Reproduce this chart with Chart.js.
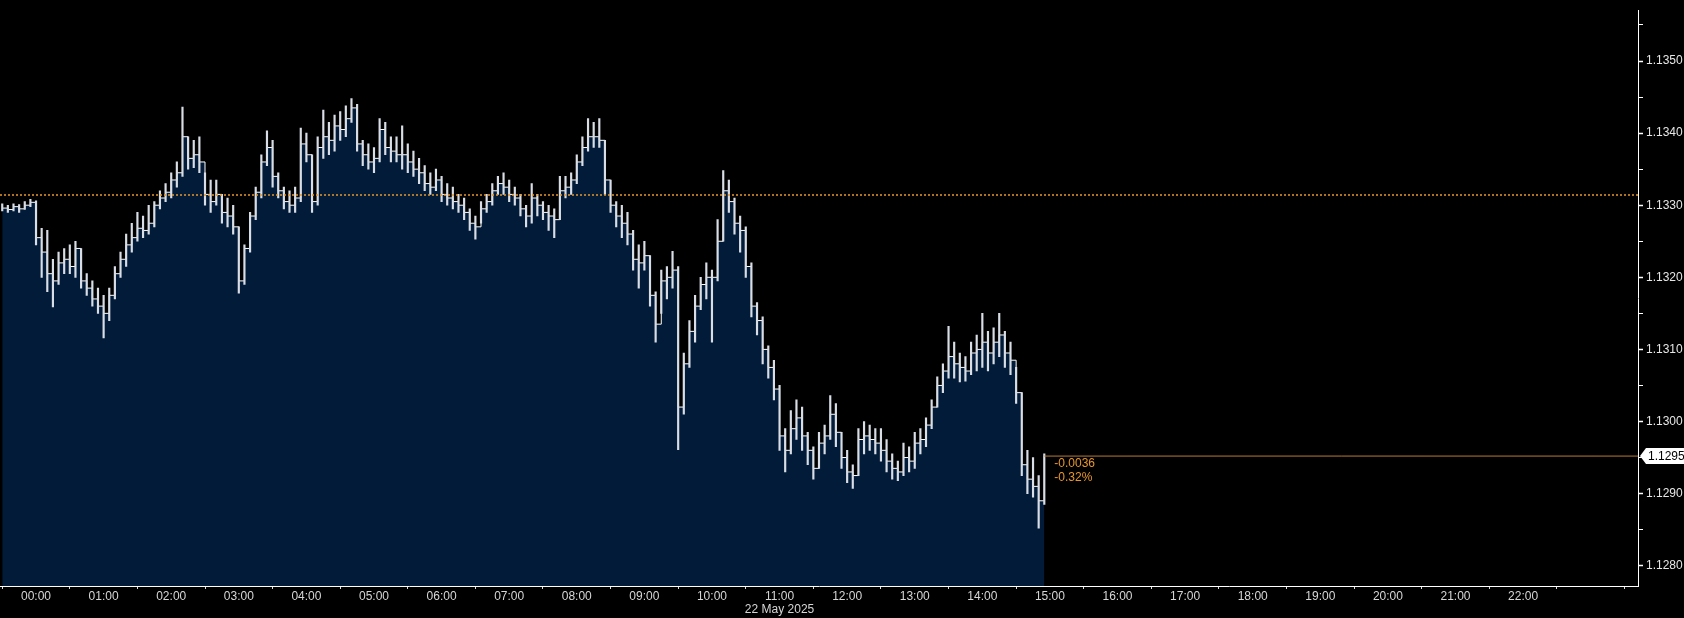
<!DOCTYPE html>
<html>
<head>
<meta charset="utf-8">
<script src="https://cdn.jsdelivr.net/npm/chart.js@4/dist/chart.umd.min.js"></script>
<style>
  html, body { margin: 0; padding: 0; background: #000; }
  #wrap { width: 1684px; height: 618px; position: relative; }
</style>
</head>
<body>
<div id="wrap"><canvas id="grafico"></canvas></div>
<script>
// 5 minute bars, first bar at 23:30 of the previous day (hours relative to 22 May 00:00)
const startHour = -0.5;
const stepHour = 5 / 60;

const lows = [
  1.13292,1.13290,1.13292,1.13290,1.13294,1.13298,
  1.13245,1.13200,1.13180,1.13159,1.13190,1.13205,
  1.13205,1.13200,1.13185,1.13175,1.13160,1.13150,
  1.13116,1.13140,1.13170,1.13200,1.13215,1.13235,
  1.13250,1.13255,1.13260,1.13270,1.13295,1.13305,
  1.13310,1.13325,1.13340,1.13350,1.13352,1.13345,
  1.13300,1.13290,1.13300,1.13275,1.13270,1.13260,
  1.13178,1.13190,1.13235,1.13280,1.13310,1.13355,
  1.13325,1.13310,1.13295,1.13290,1.13290,1.13305,
  1.13360,1.13290,1.13300,1.13365,1.13370,1.13375,
  1.13390,1.13395,1.13415,1.13375,1.13355,1.13350,
  1.13345,1.13360,1.13370,1.13360,1.13360,1.13350,
  1.13345,1.13340,1.13330,1.13320,1.13315,1.13320,
  1.13305,1.13300,1.13295,1.13290,1.13280,1.13265,
  1.13253,1.13275,1.13290,1.13300,1.13315,1.13315,
  1.13305,1.13300,1.13285,1.13270,1.13275,1.13285,
  1.13280,1.13265,1.13255,1.13280,1.13310,1.13315,
  1.13330,1.13355,1.13375,1.13380,1.13380,1.13315,
  1.13290,1.13270,1.13255,1.13245,1.13210,1.13185,
  1.13210,1.13160,1.13110,1.13150,1.13170,1.13185,
  1.12961,1.13010,1.13075,1.13110,1.13155,1.13170,
  1.13110,1.13195,1.13250,1.13290,1.13260,1.13235,
  1.13200,1.13145,1.13120,1.13080,1.13060,1.13030,
  1.12960,1.12930,1.12955,1.12975,1.12960,1.12940,
  1.12920,1.12935,1.12955,1.12975,1.12965,1.12935,
  1.12915,1.12907,1.12925,1.12955,1.12960,1.12955,
  1.12945,1.12930,1.12920,1.12918,1.12925,1.12930,
  1.12935,1.12955,1.12965,1.12990,1.13020,1.13040,
  1.13060,1.13060,1.13055,1.13056,1.13065,1.13070,
  1.13075,1.13070,1.13080,1.13090,1.13075,1.13065,
  1.13025,1.12925,1.12900,1.12895,1.12852,1.12885
];

const highs = [
  1.13302,1.13300,1.13302,1.13301,1.13305,1.13308,
  1.13306,1.13268,1.13265,1.13225,1.13235,1.13240,
  1.13245,1.13250,1.13240,1.13205,1.13195,1.13185,
  1.13175,1.13185,1.13215,1.13235,1.13260,1.13275,
  1.13290,1.13285,1.13300,1.13305,1.13320,1.13330,
  1.13345,1.13360,1.13436,1.13395,1.13390,1.13395,
  1.13345,1.13335,1.13335,1.13315,1.13310,1.13300,
  1.13270,1.13245,1.13290,1.13325,1.13370,1.13403,
  1.13390,1.13345,1.13325,1.13320,1.13325,1.13407,
  1.13400,1.13370,1.13395,1.13432,1.13415,1.13425,
  1.13430,1.13438,1.13448,1.13440,1.13390,1.13385,
  1.13380,1.13420,1.13415,1.13395,1.13395,1.13410,
  1.13385,1.13375,1.13365,1.13355,1.13345,1.13350,
  1.13340,1.13330,1.13325,1.13315,1.13310,1.13295,
  1.13285,1.13305,1.13315,1.13330,1.13340,1.13345,
  1.13335,1.13325,1.13315,1.13300,1.13330,1.13315,
  1.13305,1.13300,1.13295,1.13340,1.13340,1.13345,
  1.13370,1.13395,1.13420,1.13415,1.13420,1.13390,
  1.13335,1.13305,1.13300,1.13290,1.13265,1.13245,
  1.13250,1.13230,1.13180,1.13210,1.13215,1.13236,
  1.13215,1.13095,1.13140,1.13175,1.13200,1.13220,
  1.13210,1.13280,1.13348,1.13335,1.13310,1.13285,
  1.13270,1.13220,1.13165,1.13145,1.13105,1.13085,
  1.13050,1.12990,1.13015,1.13030,1.13020,1.12985,
  1.12965,1.12985,1.12995,1.13036,1.13025,1.12985,
  1.12960,1.12940,1.12990,1.13000,1.12995,1.12990,
  1.12990,1.12975,1.12955,1.12945,1.12970,1.12965,
  1.12985,1.12990,1.13005,1.13030,1.13062,1.13080,
  1.13132,1.13110,1.13095,1.13090,1.13110,1.13120,
  1.13150,1.13125,1.13130,1.13150,1.13125,1.13110,
  1.13075,1.13040,1.12960,1.12950,1.12925,1.12955
];

const closes = [
  1.13296,1.13294,1.13298,1.13295,1.13300,1.13304,
  1.13255,1.13235,1.13205,1.13195,1.13220,1.13225,
  1.13215,1.13240,1.13195,1.13185,1.13170,1.13160,
  1.13150,1.13175,1.13205,1.13225,1.13245,1.13255,
  1.13268,1.13265,1.13275,1.13300,1.13310,1.13318,
  1.13335,1.13345,1.13395,1.13365,1.13370,1.13360,
  1.13315,1.13305,1.13315,1.13290,1.13285,1.13270,
  1.13195,1.13240,1.13285,1.13318,1.13360,1.13380,
  1.13340,1.13320,1.13305,1.13300,1.13310,1.13385,
  1.13370,1.13305,1.13380,1.13395,1.13390,1.13410,
  1.13405,1.13420,1.13435,1.13385,1.13370,1.13360,
  1.13365,1.13405,1.13380,1.13375,1.13370,1.13370,
  1.13360,1.13350,1.13345,1.13330,1.13325,1.13335,
  1.13315,1.13310,1.13305,1.13300,1.13290,1.13275,
  1.13270,1.13295,1.13305,1.13320,1.13330,1.13325,
  1.13315,1.13310,1.13295,1.13285,1.13310,1.13300,
  1.13290,1.13285,1.13280,1.13320,1.13325,1.13335,
  1.13360,1.13380,1.13395,1.13395,1.13390,1.13335,
  1.13300,1.13285,1.13275,1.13260,1.13225,1.13220,
  1.13230,1.13175,1.13135,1.13195,1.13200,1.13210,
  1.13020,1.13080,1.13125,1.13160,1.13190,1.13200,
  1.13200,1.13250,1.13320,1.13305,1.13275,1.13265,
  1.13215,1.13160,1.13140,1.13100,1.13075,1.13045,
  1.12980,1.12960,1.12990,1.13005,1.12980,1.12960,
  1.12935,1.12970,1.12980,1.13010,1.12985,1.12950,
  1.12930,1.12925,1.12975,1.12980,1.12975,1.12970,
  1.12960,1.12945,1.12935,1.12930,1.12950,1.12945,
  1.12970,1.12975,1.12995,1.13020,1.13050,1.13070,
  1.13090,1.13080,1.13075,1.13070,1.13095,1.13100,
  1.13110,1.13095,1.13110,1.13120,1.13095,1.13085,
  1.13040,1.12940,1.12920,1.12910,1.12890,1.12952
];

const prevClose = 1.13314;
const changeLabels = ["-0.0036", "-0.32%"];
const dateLabel = "22 May 2025";
const hourLabels = ["00:00","01:00","02:00","03:00","04:00","05:00","06:00","07:00","08:00",
  "09:00","10:00","11:00","12:00","13:00","14:00","15:00","16:00","17:00","18:00","19:00",
  "20:00","21:00","22:00"];
const priceTicks = [1.1280,1.1285,1.1290,1.1295,1.1300,1.1305,1.1310,1.1315,1.1320,1.1325,
  1.1330,1.1335,1.1340,1.1345,1.1350,1.1355];

const xMin = -0.533, xMax = 23.70;
const yMin = 1.127718, yMax = 1.135705;

const times = closes.map((c, i) => startHour + i * stepHour);
const lastTime = times[times.length - 1];
const lastPrice = closes[closes.length - 1];

const fontFam = "'Liberation Sans', Arial, sans-serif";

const extras = {
  id: "extras",
  afterDraw(chart) {
    const ctx = chart.ctx;
    const xs = chart.scales.x, ys = chart.scales.y;
    ctx.save();
    // fecha bajo el eje
    ctx.font = "12px " + fontFam;
    ctx.fillStyle = "#d6d6d6";
    ctx.textAlign = "center";
    ctx.textBaseline = "middle";
    ctx.fillText(dateLabel, xs.getPixelForValue(11), 610);

    // cambio del dia
    const yl = ys.getPixelForValue(lastPrice);
    const xl = xs.getPixelForValue(lastTime);
    ctx.fillStyle = "#e8962c";
    ctx.textAlign = "left";
    ctx.fillText(changeLabels[0], xl + 10, yl + 8);
    ctx.fillText(changeLabels[1], xl + 10, yl + 22);

    // etiqueta del ultimo precio
    const bx = chart.chartArea.right + 2;
    ctx.fillStyle = "#ffffff";
    ctx.beginPath();
    ctx.moveTo(bx, yl);
    ctx.lineTo(bx + 6, yl - 8);
    ctx.lineTo(1684, yl - 8);
    ctx.lineTo(1684, yl + 8);
    ctx.lineTo(bx + 6, yl + 8);
    ctx.closePath();
    ctx.fill();
    ctx.fillStyle = "#000";
    ctx.fillText(lastPrice.toFixed(4), bx + 8, yl + 0.5);
    ctx.restore();
  }
};

const ctx = document.getElementById("grafico").getContext("2d");
new Chart(ctx, {
  type: "line",
  data: {
    datasets: [
      {
        type: "line",
        data: times.map((t, i) => ({ x: t, y: closes[i] })),
        borderColor: "#ffffff",
        borderWidth: 1,
        backgroundColor: "#021b38",
        fill: "start",
        stepped: true,
        pointRadius: 0,
        order: 3
      },
      {
        type: "bar",
        data: times.map((t, i) => ({ x: t, y: [lows[i], highs[i]] })),
        backgroundColor: "#d9dee6",
        barThickness: 1.5,
        order: 2
      },
      {
        type: "line",
        data: [{ x: xMin, y: prevClose }, { x: xMax, y: prevClose }],
        borderColor: "#e99626",
        borderWidth: 1.5,
        borderDash: [2, 2],
        pointRadius: 0,
        fill: false,
        order: 1
      },
      {
        type: "line",
        data: [{ x: lastTime, y: lastPrice }, { x: xMax, y: lastPrice }],
        borderColor: "#b97a34",
        borderWidth: 1,
        pointRadius: 0,
        fill: false,
        order: 1
      }
    ]
  },
  options: {
    responsive: true,
    maintainAspectRatio: false,
    animation: false,
    layout: { padding: 0 },
    plugins: { legend: { display: false }, tooltip: { enabled: false } },
    scales: {
      x: {
        type: "linear",
        min: xMin,
        max: xMax,
        offset: false,
        afterBuildTicks(scale) {
          const t = [];
          for (let h = -0.5; h <= 23.5; h += 0.5) t.push({ value: h });
          scale.ticks = t;
        },
        afterFit(scale) { scale.height = 32; },
        grid: {
          offset: false,
          drawOnChartArea: false,
          tickLength: 3,
          tickColor: c => (c.tick && Number.isInteger(c.tick.value)) ? "rgba(0,0,0,0)" : "#dddddd"
        },
        border: { color: "#ffffff", width: 1 },
        ticks: {
          autoSkip: false,
          maxRotation: 0,
          padding: 0,
          color: "#d6d6d6",
          font: { size: 12, family: fontFam },
          callback: v => (Number.isInteger(v) && v >= 0 && v < hourLabels.length) ? hourLabels[v] : ""
        }
      },
      y: {
        type: "linear",
        position: "right",
        min: yMin,
        max: yMax,
        afterBuildTicks(scale) {
          scale.ticks = priceTicks.map(v => ({ value: v }));
        },
        afterFit(scale) { scale.width = 46; },
        grid: {
          drawOnChartArea: false,
          tickLength: 5,
          tickColor: "#ffffff",
          tickWidth: c => (c.tick && Math.round(c.tick.value * 10000) % 10 === 0) ? 1.5 : 1
        },
        border: { color: "#ffffff", width: 1 },
        ticks: {
          padding: 3,
          color: "#e6e6e6",
          font: { size: 12, family: fontFam },
          callback: v => (Math.round(v * 10000) % 10 === 0 && Math.round(v * 10000) !== 11295) ? v.toFixed(4) : ""
        }
      }
    }
  },
  plugins: [extras]
});
</script>
</body>
</html>
